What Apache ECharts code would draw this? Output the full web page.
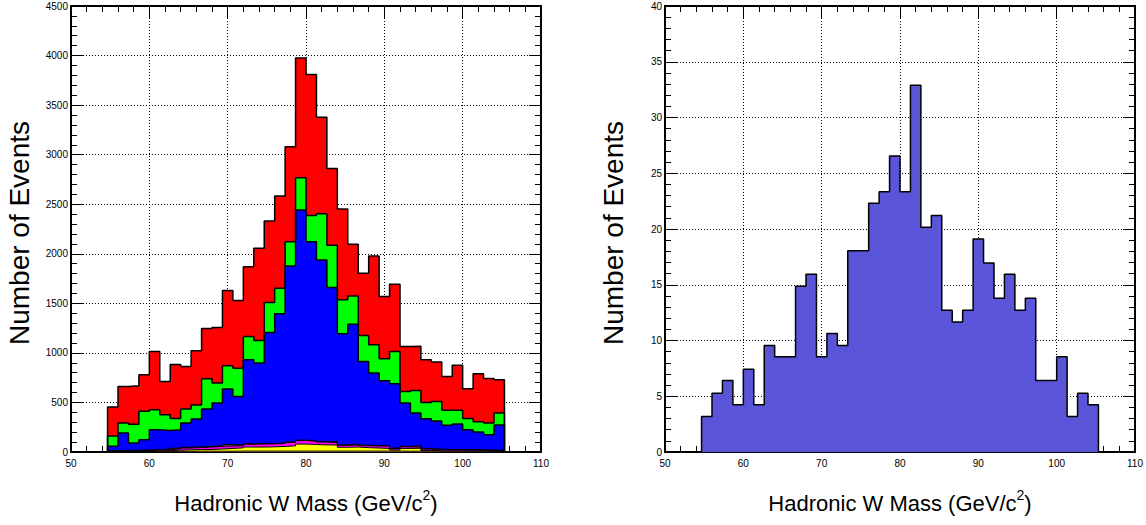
<!DOCTYPE html>
<html>
<head>
<meta charset="utf-8">
<script src="https://cdn.jsdelivr.net/npm/echarts@6.0.0/dist/echarts.min.js"></script>
<style>
html,body{margin:0;padding:0;background:#fff;}
#chart{width:1146px;height:525px;}
</style>
</head>
<body>
<div id="chart"></div>
<script>
// ---- data ----
const binEdges = [54.667, 56, 57.333, 58.667, 60, 61.333, 62.667, 64, 65.333, 66.667, 68, 69.333, 70.667, 72, 73.333, 74.667, 76, 77.333, 78.667, 80, 81.333, 82.667, 84, 85.333, 86.667, 88, 89.333, 90.667, 92, 93.333, 94.667, 96, 97.333, 98.667, 100, 101.333, 102.667, 104, 105.333];

// Monte Carlo stack: cumulative top of each component (events per bin)
const redTop = [453,662,668,779,1014,712,883,863,1021,1246,1256,1629,1528,1870,2055,2330,2582,3079,3976,3808,3378,2861,2451,2095,1803,1978,1568,1692,1064,1068,930,907,762,876,638,789,742,729];
const greenTop = [161,292,279,410,426,376,339,433,473,739,695,870,846,1165,1125,1508,1652,2122,2767,2387,2404,2085,1535,1575,1175,1081,940,1014,611,621,500,510,420,420,339,306,292,393];
const blueTop = [57,191,91,124,225,218,225,292,332,433,494,635,561,930,897,1205,1394,1877,2441,2122,1938,1659,1192,1289,913,796,719,688,494,393,336,312,269,282,225,201,175,272];
const brownTop = [14,16,18,20,24,30,38,48,52,58,62,76,70,84,86,86,92,102,120,114,106,102,74,78,70,66,64,40,58,64,34,28,26,26,24,22,20,18];
const magentaTop = [10,12,14,16,20,26,32,40,45,50,56,60,64,78,80,82,86,96,115,108,100,96,68,72,64,60,60,36,52,50,30,24,22,22,20,18,16,14];
const yellowTop = [6,7,8,9,11,14,18,22,24,26,30,36,42,50,50,52,56,62,80,76,72,70,48,50,44,40,36,20,36,38,16,12,11,11,10,10,9,8];
const orangeTop = [4,4,5,5,6,6,7,7,8,8,8,8,9,9,9,9,9,9,9,9,9,9,9,9,9,9,9,9,8,8,8,8,8,8,8,8,7,7];

// Data histogram (right panel)
const dataVals = [3.19,5.28,6.42,4.24,7.43,4.24,9.55,8.54,8.54,14.87,15.94,8.54,10.63,9.55,18.06,18.06,22.3,23.34,26.54,23.34,32.9,20.15,21.2,12.72,11.67,12.72,19.1,16.96,13.79,15.94,12.72,13.79,6.42,6.42,8.54,3.19,5.28,4.24];

const xTitle = '{m|Hadronic W Mass (GeV/c}{sup|2}{m|)}';
const yTitle = 'Number of Events';

// ---- helpers ----
const FONT = '"Liberation Sans", Arial, sans-serif';

function stepData(vals) {
  const d = [[binEdges[0], 0]];
  vals.forEach((v, i) => d.push([binEdges[i], v]));
  d.push([binEdges[vals.length], vals[vals.length - 1]]);
  d.push([binEdges[vals.length], 0]);
  return d;
}

function histSeries(vals, color, gi, lw) {
  return {
    type: 'line', xAxisIndex: gi * 2, yAxisIndex: gi * 2,
    data: stepData(vals), step: 'end', symbol: 'none', silent: true,
    lineStyle: { color: '#000', width: lw || 1.5 },
    areaStyle: { color: color, opacity: 1 },
    animation: false
  };
}

const tickStyle = { inside: true, length: 12, lineStyle: { color: '#000', width: 1 } };
const minorStyle = { show: true, splitNumber: 5, length: 6, lineStyle: { color: '#000', width: 1 } };
const frameLine = { show: true, onZero: false, lineStyle: { color: '#000', width: 2 } };
const gridLine = { show: true, lineStyle: { type: [1, 2], color: '#000', width: 1 } };
const labelStyle = { color: '#000', fontSize: 10, fontFamily: FONT, formatter: v => String(v) };

function xAxes(gi) {
  return [
    { type: 'value', gridIndex: gi, position: 'bottom', min: 50, max: 110, interval: 10,
      axisLine: frameLine, axisTick: tickStyle, minorTick: minorStyle,
      splitLine: gridLine, axisLabel: Object.assign({ margin: 6, showMaxLabel: true, showMinLabel: true }, labelStyle) },
    { type: 'value', gridIndex: gi, position: 'top', min: 50, max: 110, interval: 10,
      axisLine: frameLine, axisTick: tickStyle, minorTick: minorStyle,
      splitLine: { show: false }, axisLabel: { show: false } }
  ];
}
function yAxes(gi, ymax, yint) {
  return [
    { type: 'value', gridIndex: gi, position: 'left', min: 0, max: ymax, interval: yint,
      axisLine: frameLine, axisTick: tickStyle, minorTick: minorStyle,
      splitLine: gridLine, axisLabel: Object.assign({ margin: 3 }, labelStyle) },
    { type: 'value', gridIndex: gi, position: 'right', min: 0, max: ymax, interval: yint,
      axisLine: frameLine, axisTick: tickStyle, minorTick: minorStyle,
      splitLine: { show: false }, axisLabel: { show: false } }
  ];
}

function titles(offset) {
  return [
    { type: 'text', x: 19 + offset, y: 233, rotation: Math.PI / 2, z: 100,
      style: { text: yTitle, fontSize: 28, fontFamily: FONT, fill: '#000', align: 'center', verticalAlign: 'middle' } },
    { type: 'text', x: 306 + offset, y: 501, z: 100,
      style: { text: xTitle, fontSize: 22, fontFamily: FONT, fill: '#000', align: 'center', verticalAlign: 'middle',
        rich: {
          m: { fontSize: 22, fontFamily: FONT, fill: '#000', lineHeight: 26, verticalAlign: 'bottom' },
          sup: { fontSize: 14, fontFamily: FONT, fill: '#000', lineHeight: 14, verticalAlign: 'top' }
        } } }
  ];
}

const chart = echarts.init(document.getElementById('chart'), null, { renderer: 'svg' });
chart.setOption({
  animation: false,
  backgroundColor: '#fff',
  grid: [
    { left: 71, right: 605, top: 6, bottom: 73 },
    { left: 665, right: 11, top: 6, bottom: 73 }
  ],
  xAxis: xAxes(0).concat(xAxes(1)),
  yAxis: yAxes(0, 4500, 500).concat(yAxes(1, 40, 5)),
  series: [
    histSeries(redTop, '#ff0000', 0),
    histSeries(greenTop, '#00ff00', 0),
    histSeries(blueTop, '#0000ff', 0),
    histSeries(brownTop, '#9a3a3a', 0, 1),
    histSeries(magentaTop, '#ff00ff', 0, 1),
    histSeries(yellowTop, '#ffff00', 0, 1),
    histSeries(orangeTop, '#d9a15a', 0, 1),
    histSeries(dataVals, '#5a54d9', 1)
  ],
  graphic: titles(0).concat(titles(594))
});
</script>
</body>
</html>
